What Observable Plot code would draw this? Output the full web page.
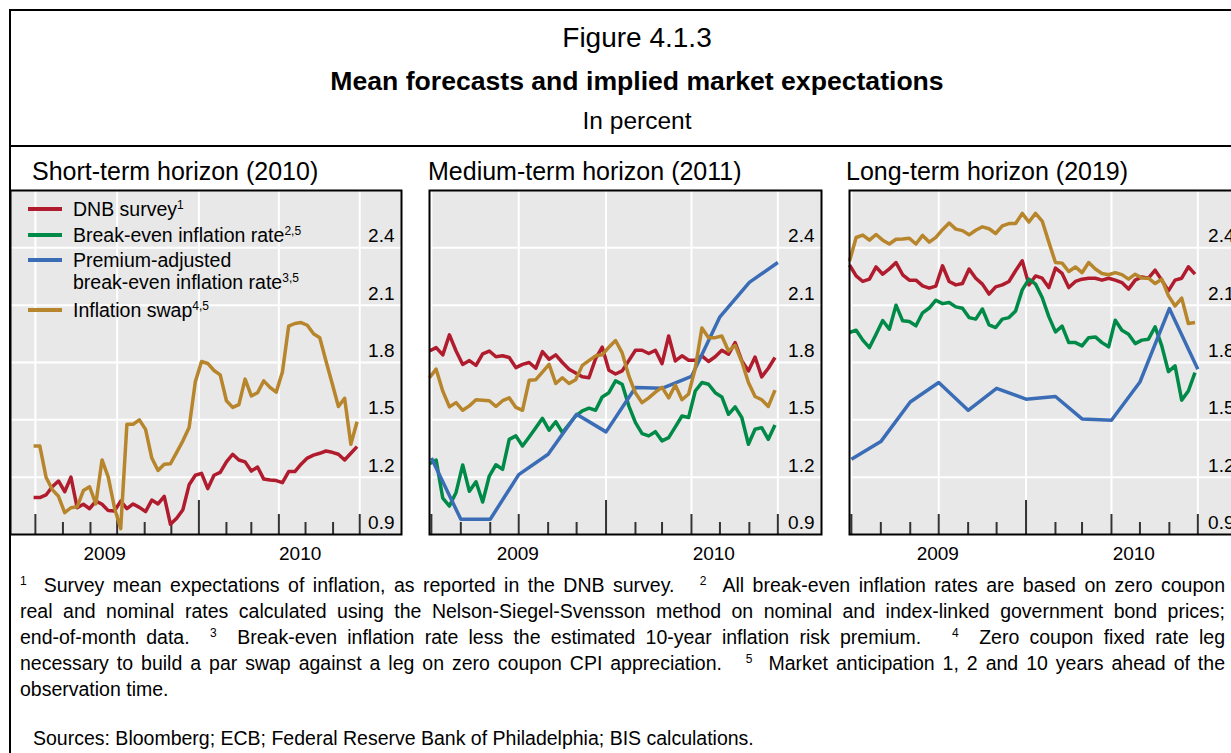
<!DOCTYPE html>
<html>
<head>
<meta charset="utf-8">
<script src="https://cdn.jsdelivr.net/npm/d3@7"></script>
<script src="https://cdn.jsdelivr.net/npm/@observablehq/plot@0.6"></script>
<style>
  html, body { margin: 0; padding: 0; background: #fff; }
  body { width: 1231px; height: 753px; overflow: hidden; position: relative;
         font-family: "Liberation Sans", Arial, Helvetica, sans-serif; color: #000; }
  .abs { position: absolute; white-space: nowrap; }
  .line { position: absolute; background: #000; }
  .ctr { text-align: center; }
  .sup { font-size: 12px; position: relative; top: -0.55em; line-height: 0; }
  .fn { position: absolute; left: 20px; width: 1205px; font-size: 19.5px; line-height: 26px;
        text-align: justify; text-align-last: justify; white-space: normal; }
  .fn.last { text-align-last: left; }
  .leg { position: absolute; font-size: 19.5px; line-height: 22px; white-space: nowrap; }
  .sw { position: absolute; width: 34px; height: 4px; }
  .wrap svg { max-width: none !important; }
</style>
</head>
<body>
<script>
// ---------------- data ----------------
const seriesNames = ["DNB survey", "Break-even inflation rate", "Premium-adjusted break-even inflation rate", "Inflation swap"];
const seriesColors = ["#b01c2e", "#008a48", "#3b6db6", "#b7852b"];

// weekly observations, first week 2009-06-29
const redShort = [1.093,1.093,1.107,1.150,1.180,1.124,1.200,1.040,1.058,1.035,1.075,1.058,1.025,1.023,1.075,1.035,1.060,1.042,1.020,1.080,1.060,1.100,0.953,0.985,1.030,1.160,1.210,1.220,1.140,1.210,1.225,1.280,1.320,1.290,1.280,1.232,1.253,1.190,1.185,1.182,1.171,1.229,1.229,1.268,1.300,1.315,1.325,1.337,1.330,1.320,1.290,1.325,1.360];
const goldShort = [1.363,1.363,1.200,1.135,1.100,1.014,1.040,1.045,1.130,1.150,1.060,1.290,1.200,1.040,0.930,1.477,1.477,1.500,1.450,1.300,1.235,1.268,1.270,1.330,1.390,1.460,1.700,1.805,1.795,1.758,1.735,1.600,1.565,1.580,1.713,1.625,1.642,1.704,1.670,1.645,1.750,1.990,2.004,2.009,1.995,1.950,1.930,1.808,1.690,1.570,1.613,1.372,1.490];

const redMed = [1.860,1.878,1.840,1.945,1.860,1.790,1.810,1.785,1.845,1.860,1.830,1.835,1.826,1.773,1.790,1.800,1.770,1.857,1.817,1.840,1.800,1.765,1.745,1.725,1.720,1.820,1.880,1.760,1.740,1.756,1.810,1.864,1.864,1.847,1.864,1.794,1.939,1.808,1.835,1.812,1.812,1.835,1.805,1.830,1.864,1.843,1.904,1.810,1.756,1.829,1.725,1.770,1.826];
const greenMed = [1.270,1.289,1.090,1.049,1.120,1.264,1.126,1.176,1.070,1.206,1.265,1.241,1.398,1.416,1.363,1.410,1.459,1.508,1.446,1.490,1.433,1.477,1.520,1.547,1.561,1.550,1.620,1.642,1.704,1.686,1.573,1.485,1.428,1.416,1.438,1.390,1.407,1.463,1.520,1.512,1.651,1.695,1.686,1.642,1.620,1.529,1.568,1.512,1.372,1.451,1.459,1.398,1.473];
const goldMed = [1.720,1.765,1.650,1.568,1.590,1.550,1.573,1.605,1.603,1.600,1.570,1.600,1.615,1.565,1.550,1.707,1.710,1.750,1.790,1.690,1.720,1.690,1.710,1.785,1.810,1.835,1.840,1.880,1.915,1.850,1.730,1.640,1.590,1.615,1.645,1.670,1.615,1.682,1.605,1.635,1.770,1.980,1.930,1.930,1.939,1.860,1.890,1.805,1.695,1.622,1.605,1.570,1.655];

const redLong = [2.310,2.253,2.224,2.236,2.300,2.262,2.290,2.323,2.259,2.231,2.231,2.201,2.189,2.200,2.306,2.224,2.206,2.213,2.289,2.241,2.210,2.158,2.196,2.206,2.224,2.280,2.332,2.206,2.253,2.241,2.192,2.294,2.266,2.192,2.224,2.236,2.241,2.241,2.231,2.241,2.231,2.218,2.184,2.231,2.248,2.241,2.283,2.231,2.175,2.231,2.241,2.301,2.262];
const greenLong = [1.957,1.969,1.917,1.878,1.948,2.020,1.974,2.100,2.018,2.014,1.992,2.060,2.085,2.126,2.108,2.114,2.091,2.084,2.035,2.027,2.080,1.997,1.983,2.027,2.035,2.070,2.180,2.236,2.210,2.140,2.040,1.960,1.990,1.904,1.904,1.887,1.930,1.934,1.904,1.882,2.021,1.969,1.948,1.899,1.917,1.922,1.987,1.887,1.752,1.782,1.603,1.651,1.747];
const goldLong = [2.330,2.454,2.467,2.440,2.470,2.440,2.420,2.445,2.446,2.450,2.420,2.465,2.430,2.455,2.495,2.530,2.498,2.490,2.468,2.492,2.510,2.500,2.475,2.515,2.527,2.527,2.580,2.535,2.580,2.540,2.430,2.323,2.320,2.276,2.300,2.270,2.323,2.289,2.266,2.259,2.270,2.260,2.236,2.262,2.242,2.241,2.213,2.236,2.150,2.096,2.137,2.004,2.009];

// monthly observations, 2009-07 .. 2010-07
const blueMed  = [1.300,0.980,0.980,1.213,1.320,1.529,1.437,1.669,1.665,1.727,2.039,2.219,2.323];
const blueLong = [1.294,1.386,1.593,1.695,1.550,1.665,1.608,1.622,1.505,1.498,1.698,2.082,1.765];

const yTickValues = [0.9, 1.2, 1.5, 1.8, 2.1, 2.4];
const yearLabels = ["2009", "2010"];
const panelTitles = ["Short-term horizon (2010)", "Medium-term horizon (2011)", "Long-term horizon (2019)"];

// ---------------- helpers ----------------
const DAY = 864e5;
const weekStart = Date.UTC(2009, 5, 29);
const weekDates = redShort.map((_, i) => new Date(weekStart + i * 7 * DAY));
const monthDates = blueMed.map((_, k) => new Date(Date.UTC(2009, 6 + k, 1)));
const tickDates = d3.utcMonth.range(new Date(Date.UTC(2009, 6, 1)), new Date(Date.UTC(2010, 6, 2)));
const quarterDates = tickDates.filter(d => d.getUTCMonth() % 3 === 0);
const yearTickDates = tickDates.filter(d => d.getUTCMonth() === 0);
const qTickDates = quarterDates.filter(d => d.getUTCMonth() !== 0);
const mTickDates = tickDates.filter(d => d.getUTCMonth() % 3 !== 0);
const yearStart2010 = new Date(Date.UTC(2010, 0, 1));

function el(tag, cls, style, html) {
  const e = document.createElement(tag);
  if (cls) e.className = cls;
  Object.assign(e.style, style || {});
  if (html != null) e.innerHTML = html;
  document.body.appendChild(e);
  return e;
}

// ---------------- frame lines & header ----------------
el("div", "line", {left: "9px", top: "9px", width: "1300px", height: "2px"});
el("div", "line", {left: "9px", top: "9px", width: "2px", height: "800px"});
el("div", "line", {left: "9px", top: "145px", width: "1300px", height: "2px"});

el("div", "abs ctr", {left: "10px", width: "1254px", top: "21px", fontSize: "28px", lineHeight: "34px"}, "Figure 4.1.3");
el("div", "abs ctr", {left: "10px", width: "1254px", top: "65px", fontSize: "26.6px", lineHeight: "32px", fontWeight: "bold"}, "Mean forecasts and implied market expectations");
el("div", "abs ctr", {left: "10px", width: "1254px", top: "105px", fontSize: "24.5px", lineHeight: "32px"}, "In percent");

// ---------------- panels ----------------
const FRAME_TOP = 189.5, FRAME_H = 344;
const panels = [
  {title: panelTitles[0], left: 10, width: 391, titleX: 32,
   domain: [new Date(Date.UTC(2009, 5, 3)), new Date(Date.UTC(2010, 7, 17))],
   weekly: [[redShort, 0], [goldShort, 3]], monthly: []},
  {title: panelTitles[1], left: 429, width: 392, titleX: 428,
   domain: [new Date(Date.UTC(2009, 5, 29)), new Date(Date.UTC(2010, 7, 16))],
   weekly: [[redMed, 0], [greenMed, 1], [goldMed, 3]], monthly: [[blueMed, 2]]},
  {title: panelTitles[2], left: 849, width: 392, titleX: 846,
   domain: [new Date(Date.UTC(2009, 5, 29)), new Date(Date.UTC(2010, 7, 16))],
   weekly: [[redLong, 0], [greenLong, 1], [goldLong, 3]], monthly: [[blueLong, 2]]}
];

const LW = 3.5;
panels.forEach(p => {
  el("div", "abs", {left: p.titleX + "px", top: "155px", fontSize: "25px", lineHeight: "32px"}, p.title);

  const lineMarks = [];
  const items = [];
  p.weekly.forEach(([vals, ci]) => items.push({ci, data: vals.map((v, i) => ({date: weekDates[i], value: v}))}));
  p.monthly.forEach(([vals, ci]) => items.push({ci, data: vals.map((v, i) => ({date: monthDates[i], value: v}))}));
  items.sort((a, b) => a.ci - b.ci);
  items.forEach(it => lineMarks.push(Plot.lineY(it.data, {
    x: "date", y: "value", stroke: seriesColors[it.ci], strokeWidth: LW,
    strokeLinejoin: "round", strokeLinecap: "butt"
  })));

  const mid09 = new Date((+p.domain[0] + +yearStart2010) / 2);
  const mid10 = new Date((+yearStart2010 + +p.domain[1]) / 2);

  const W = p.width + 4, H = FRAME_H + 4 + 34;
  const chart = Plot.plot({
    width: W,
    height: H,
    marginTop: 2, marginLeft: 2, marginRight: 2, marginBottom: 36,
    x: {type: "utc", domain: p.domain, axis: null},
    y: {domain: [0.9, 2.7], axis: null},
    style: {background: "transparent", fontFamily: "Liberation Sans, Arial, sans-serif", fontSize: "19px", color: "#000", overflow: "visible", maxWidth: "none"},
    marks: [
      Plot.frame({fill: "#e8e8e8"}),
      Plot.ruleY(yTickValues.slice(1), {y: d => d, stroke: "#fff", strokeWidth: 2}),
      Plot.ruleX(quarterDates, {x: d => d, stroke: "#fff", strokeWidth: 2}),
      Plot.ruleX(mTickDates, {x: d => d, stroke: "#333", strokeWidth: 2, insetTop: FRAME_H - 12}),
      Plot.ruleX(qTickDates, {x: d => d, stroke: "#333", strokeWidth: 2, insetTop: FRAME_H - 20}),
      Plot.ruleX(yearTickDates, {x: d => d, stroke: "#333", strokeWidth: 2, insetTop: FRAME_H - 34}),
      ...lineMarks,
      Plot.text(yTickValues, {y: d => d, text: d => d.toFixed(1), frameAnchor: "right", textAnchor: "end",
        lineAnchor: "middle", dx: -7, dy: -11.5, fontSize: 19, fill: "#000"}),
      Plot.text([{x: mid09, t: yearLabels[0]}, {x: mid10, t: yearLabels[1]}], {x: "x", text: "t",
        frameAnchor: "bottom", lineAnchor: "middle", textAnchor: "middle", dy: 19, fontSize: 19, fill: "#000"}),
      Plot.frame({stroke: "#000", strokeWidth: 2})
    ]
  });
  chart.style.width = W + "px";
  chart.style.height = H + "px";
  chart.style.maxWidth = "none";
  const wrap = el("div", "abs wrap", {left: (p.left - 2) + "px", top: (FRAME_TOP - 2) + "px", width: W + "px", height: H + "px"});
  wrap.appendChild(chart);
});

// ---------------- legend (inside first panel) ----------------
const legendRows = [
  {ci: 0, y: 208.5, lines: ['DNB survey<span class="sup">1</span>']},
  {ci: 1, y: 234.5, lines: ['Break-even inflation rate<span class="sup">2,5</span>']},
  {ci: 2, y: 260, lines: ['Premium-adjusted', 'break-even inflation rate<span class="sup">3,5</span>']},
  {ci: 3, y: 309.5, lines: ['Inflation swap<span class="sup">4,5</span>']}
];
legendRows.forEach(r => {
  el("div", "sw", {left: "28px", top: (r.y - 2) + "px", background: seriesColors[r.ci]});
  r.lines.forEach((t, j) => {
    el("div", "leg", {left: "73px", top: (r.y - 11 + j * 22) + "px"}, t);
  });
});

// ---------------- footnotes ----------------
const notes = [
  '<span class="sup">1</span>&nbsp; Survey mean expectations of inflation, as reported in the DNB survey.&nbsp;&nbsp; <span class="sup">2</span>&nbsp; All break-even inflation rates are based on zero coupon',
  'real and nominal rates calculated using the Nelson-Siegel-Svensson method on nominal and index-linked government bond prices;',
  'end-of-month data.&nbsp; <span class="sup">3</span>&nbsp; Break-even inflation rate less the estimated 10-year inflation risk premium.&nbsp;&nbsp; <span class="sup">4</span>&nbsp; Zero coupon fixed rate leg',
  'necessary to build a par swap against a leg on zero coupon CPI appreciation.&nbsp;&nbsp; <span class="sup">5</span>&nbsp; Market anticipation 1, 2 and 10 years ahead of the',
  'observation time.'
];
notes.forEach((t, i) => {
  el("div", "fn" + (i === notes.length - 1 ? " last" : ""), {top: (572 + i * 26) + "px"}, t);
});
el("div", "fn last", {top: "725px", left: "33px"}, "Sources: Bloomberg; ECB; Federal Reserve Bank of Philadelphia; BIS calculations.");
</script>
</body>
</html>
